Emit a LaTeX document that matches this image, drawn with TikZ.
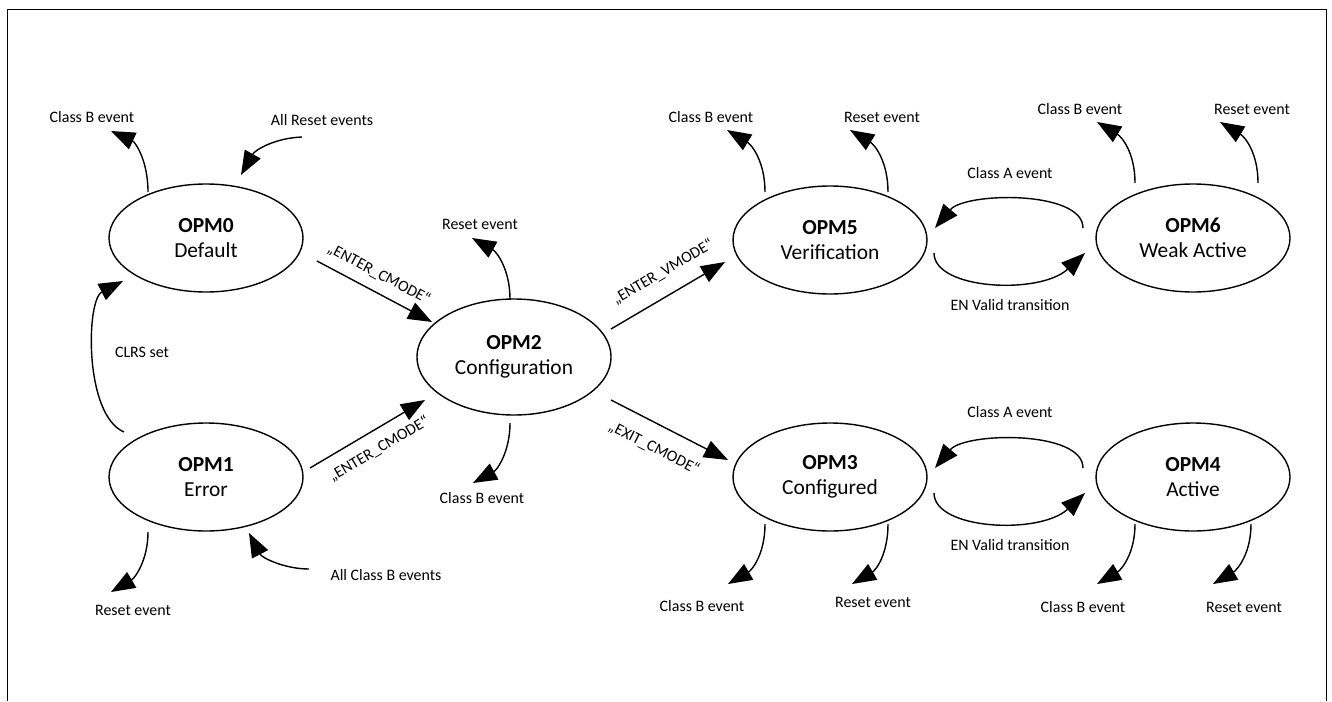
\documentclass[tikz,border=0pt]{standalone}
\usepackage{fontspec}
\setmainfont{Carlito}
\usetikzlibrary{calc,arrows.meta,shapes.geometric}
\begin{document}
\begin{tikzpicture}[x=1bp,y=-1bp,
  state/.style={draw, ellipse, line width=1.4bp, minimum width=194bp, minimum height=108bp, inner sep=0pt, align=center, font=\fontsize{21.5}{25}\selectfont},
  lbl/.style={font=\fontsize{16}{19}\selectfont, inner sep=0pt},
  arr/.style={line width=1.4bp, -{Triangle[length=24bp,width=18bp]}},
]
\useasboundingbox (0,0) rectangle (1332,701);
\draw[line width=1bp] (7,701) -- (7,10) -- (1326,10) -- (1326,701);

% states
\node[state] (opm0) at (206,238) {\textbf{OPM0}\\Default};
\node[state] (opm1) at (206,477) {\textbf{OPM1}\\Error};
\node[state, minimum height=116bp] (opm2) at (514,357) {\textbf{OPM2}\\Configuration};
\node[state] (opm5) at (830,240) {\textbf{OPM5}\\Verification};
\node[state] (opm6) at (1193,238) {\textbf{OPM6}\\Weak Active};
\node[state] (opm3) at (830,477) {\textbf{OPM3}\\Configured};
\node[state] (opm4) at (1193,477) {\textbf{OPM4}\\Active};

% labels
\node[lbl] (l0cb) at (92,117) {Class B event};
\node[lbl] (l0ar) at (322,120) {All Reset events};
\node[lbl] (lclrs) at (142,352) {CLRS set};
\node[lbl] (l1r) at (133,610) {Reset event};
\node[lbl] (l1acb) at (386,575) {All Class B events};
\node[lbl] (l2r) at (480,224) {Reset event};
\node[lbl] (l2cb) at (482,498) {Class B event};
\node[lbl] (l5cb) at (711,117) {Class B event};
\node[lbl] (l5r) at (882,117) {Reset event};
\node[lbl] (l6cb) at (1080,109) {Class B event};
\node[lbl] (l6r) at (1252,109) {Reset event};
\node[lbl] (lAu) at (1010,173) {Class A event};
\node[lbl] (lENu) at (1010,305) {EN Valid transition};
\node[lbl] (lAl) at (1010,412) {Class A event};
\node[lbl] (lENl) at (1010,545) {EN Valid transition};
\node[lbl] (l3cb) at (702,606) {Class B event};
\node[lbl] (l3r) at (873,602) {Reset event};
\node[lbl] (l4cb) at (1083,607) {Class B event};
\node[lbl] (l4r) at (1244,607) {Reset event};

\node[lbl, rotate=-28] (e02l) at (379,274) {„ENTER\_CMODE“};
\node[lbl, rotate=30.6] (e12l) at (379,449) {„ENTER\_CMODE“};
\node[lbl, rotate=30.4] (e25l) at (663,272) {„ENTER\_VMODE“};
\node[lbl, rotate=-27] (e23l) at (654,448) {„EXIT\_CMODE“};

% main transitions
\draw[arr] ($(opm0)+(111,23)$) -- ($(opm2)+(-82,-35)$);
\draw[arr] ($(opm1)+(104,-9)$) -- ($(opm2)+(-89,43)$);
\draw[arr] ($(opm2)+(97,-28)$) -- ($(opm5)+(-105,22)$);
\draw[arr] ($(opm2)+(97,43)$) -- ($(opm3)+(-102,-17)$);

% OPM0 events
\draw[arr] ($(opm0)+(-58,-46)$) .. controls +(0,-32) and +(24,11) .. ($(opm0)+(-95,-107)$);
\draw[arr] ($(opm0)+(96,-101)$) .. controls +(-27,1) and +(14,-25) .. ($(opm0)+(35,-63)$);
% CLRS set
\draw[arr] ($(opm1)+(-82,-45)$) .. controls +(-40,-17) and +(-37,19) .. ($(opm0)+(-83,43)$);
% OPM1 events
\draw[arr] ($(opm1)+(-58,55)$) .. controls +(0,28) and +(24,-14) .. ($(opm1)+(-95,115)$);
\draw[arr] ($(opm1)+(103,92)$) .. controls +(-24,0) and +(13,25) .. ($(opm1)+(43,56)$);
% OPM2 events
\draw[arr] ($(opm2)+(-4,-58)$) .. controls +(0,-29) and +(25,14) .. ($(opm2)+(-42,-119)$);
\draw[arr] ($(opm2)+(-4,66)$) .. controls +(0,29) and +(24,-13) .. ($(opm2)+(-41,126)$);
% OPM5 events
\draw[arr] ($(opm5)+(-65,-48)$) .. controls +(0,-30) and +(25,15) .. ($(opm5)+(-103,-110)$);
\draw[arr] ($(opm5)+(58,-48)$) .. controls +(0,-30) and +(25,15) .. ($(opm5)+(20,-110)$);
% OPM6 events
\draw[arr] ($(opm6)+(-58,-55)$) .. controls +(0,-30) and +(25,15) .. ($(opm6)+(-96,-116)$);
\draw[arr] ($(opm6)+(65,-55)$) .. controls +(0,-30) and +(25,15) .. ($(opm6)+(27,-116)$);
% OPM3 events
\draw[arr] ($(opm3)+(-65,47)$) .. controls +(0,30) and +(24,-14) .. ($(opm3)+(-102,107)$);
\draw[arr] ($(opm3)+(58,47)$) .. controls +(0,30) and +(24,-14) .. ($(opm3)+(22,107)$);
% OPM4 events
\draw[arr] ($(opm4)+(-58,47)$) .. controls +(0,30) and +(24,-14) .. ($(opm4)+(-96,107)$);
\draw[arr] ($(opm4)+(58,47)$) .. controls +(0,30) and +(24,-14) .. ($(opm4)+(20,107)$);

% OPM5 <-> OPM6
\draw[arr] ($(opm6)+(-110,-10)$) .. controls +(0,-38) and +(30,-36) .. ($(opm5)+(105,-12)$);
\draw[arr] ($(opm5)+(104,13)$) .. controls +(0,37) and +(-45,42) .. ($(opm6)+(-108,15)$);
% OPM3 <-> OPM4
\draw[arr] ($(opm4)+(-110,-9)$) .. controls +(0,-38) and +(30,-36) .. ($(opm3)+(105,-9)$);
\draw[arr] ($(opm3)+(104,16)$) .. controls +(0,37) and +(-45,42) .. ($(opm4)+(-108,16)$);
\end{tikzpicture}
\end{document}
